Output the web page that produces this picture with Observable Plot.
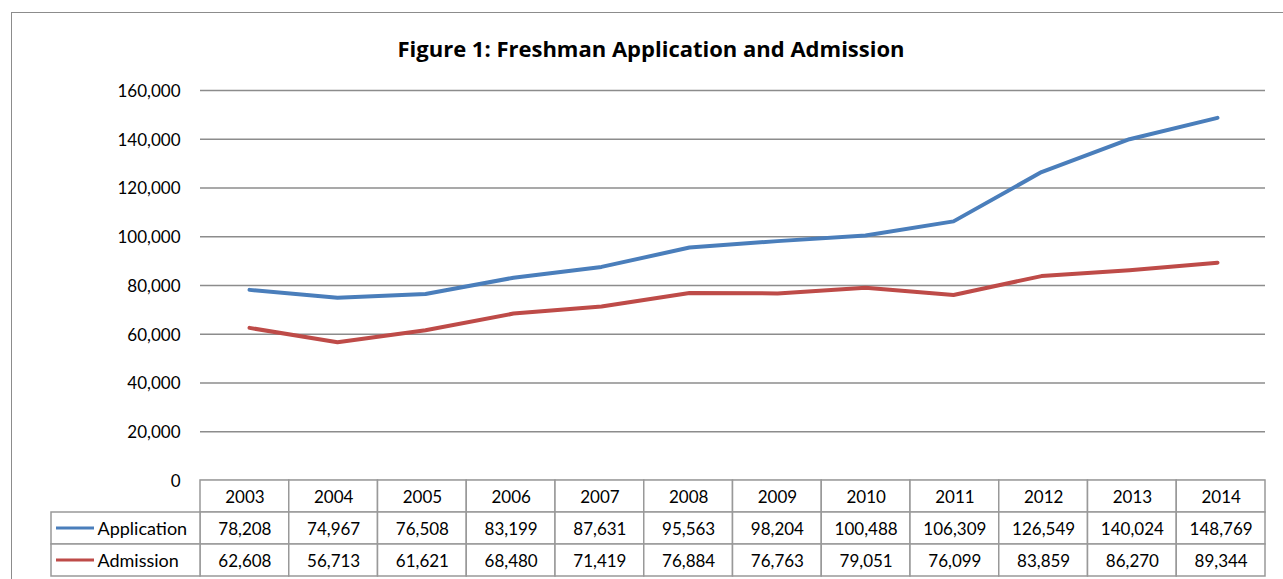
<!DOCTYPE html>
<html>
<head>
<meta charset="utf-8">
<script src="https://cdn.jsdelivr.net/npm/d3@7"></script>
<script src="https://cdn.jsdelivr.net/npm/@observablehq/plot@0.6"></script>
<style>
  html, body { margin: 0; padding: 0; background: #fff; }
  #wrap { position: relative; width: 1283px; height: 579px; overflow: hidden; font-family: Lato, "Open Sans", sans-serif; }
  #frame { position: absolute; left: 11px; top: 12px; width: 1300px; height: 600px; border-left: 1.5px solid #8c8c8c; border-top: 1.5px solid #8c8c8c; }
  #title { position: absolute; left: 0; width: 1302px; top: 33px; text-align: center; font-family: "Open Sans", Lato, sans-serif; font-weight: bold; font-size: 22px; line-height: 30px; color: #000; }
  #chart, #table { position: absolute; left: 0; }
  #chart { top: 0; }
  #table { top: 479px; }
</style>
</head>
<body>
<div id="wrap">
  <div id="frame"></div>
  <div id="title">Figure 1: Freshman Application and Admission</div>
  <div id="chart"></div>
  <div id="table"></div>
</div>
<script>
const years = ["2003","2004","2005","2006","2007","2008","2009","2010","2011","2012","2013","2014"];
const application = [78208, 74967, 76508, 83199, 87631, 95563, 98204, 100488, 106309, 126549, 140024, 148769];
const admission = [62608, 56713, 61621, 68480, 71419, 76884, 76763, 79051, 76099, 83859, 86270, 89344];
const yTicks = [0, 20000, 40000, 60000, 80000, 100000, 120000, 140000, 160000];
const seriesNames = ["Application", "Admission"];
const seriesColors = ["#4a7ebb", "#be4b48"];

const fmt = d3.format(",");
const seriesValues = [application, admission];

const lineData = seriesNames.flatMap((s, si) =>
  years.map((y, i) => ({ series: s, year: y, value: seriesValues[si][i] })));

const chart = Plot.plot({
  width: 1283,
  height: 579,
  marginLeft: 200,
  marginRight: 18,
  marginTop: 90,
  marginBottom: 99,
  style: { fontFamily: "Lato, 'Open Sans', sans-serif", background: "transparent", overflow: "visible" },
  x: { type: "point", domain: years, padding: 0.5, axis: null },
  y: { domain: [0, 160000], axis: null },
  color: { domain: seriesNames, range: seriesColors },
  marks: [
    Plot.ruleY(yTicks, { stroke: "#8c8c8c", strokeWidth: 1.5 }),
    Plot.axisY(yTicks, { tickSize: 0, tickPadding: 20, tickFormat: fmt, fontSize: 17, fill: "#000", anchor: "left", label: null, dy: 1 }),
    Plot.line(lineData, { x: "year", y: "value", z: "series", stroke: "series", strokeWidth: 4, curve: "linear" })
  ]
});
document.getElementById("chart").appendChild(chart);

// Table
const colW = 1; // one unit per year column
const labelStart = -149 / 88.75;
const rows = ["header", ...seriesNames];
const headerCells = years.map((y, i) => ({ row: "header", col: i, text: y }));
const valueCells = seriesNames.flatMap((s, si) =>
  years.map((y, i) => ({ row: s, col: i, text: fmt(seriesValues[si][i]) })));
const labelCells = seriesNames.map((s, si) => ({ row: s, text: s, color: seriesColors[si] }));
const allCells = [...headerCells, ...valueCells];

const table = Plot.plot({
  width: 1283,
  height: 99,
  marginLeft: 51,
  marginRight: 18,
  marginTop: 1,
  marginBottom: 2,
  style: { fontFamily: "Lato, 'Open Sans', sans-serif", background: "transparent", overflow: "visible" },
  x: { domain: [labelStart, years.length * colW], axis: null },
  y: { type: "band", domain: rows, padding: 0, axis: null },
  marks: [
    Plot.barX(allCells, { x1: d => d.col, x2: d => d.col + colW, y: "row", fill: "white", stroke: "#999", strokeWidth: 1.5 }),
    Plot.barX(labelCells, { x1: labelStart, x2: 0, y: "row", fill: "white", stroke: "#999", strokeWidth: 1.5 }),
    Plot.text(allCells, { x: d => d.col + colW / 2, y: "row", text: "text", fontSize: 17, fill: "#000", dy: 1 }),
    Plot.barX(labelCells, { x1: labelStart + 5 / 88.75, x2: labelStart + 43 / 88.75, y: "row", fill: "color", insetTop: 14.5, insetBottom: 14.5 }),
    Plot.text(labelCells, { x: labelStart + 46 / 88.75, y: "row", text: "text", textAnchor: "start", fontSize: 18, fill: "#000", dy: 1 })
  ]
});
document.getElementById("table").appendChild(table);
</script>
</body>
</html>
